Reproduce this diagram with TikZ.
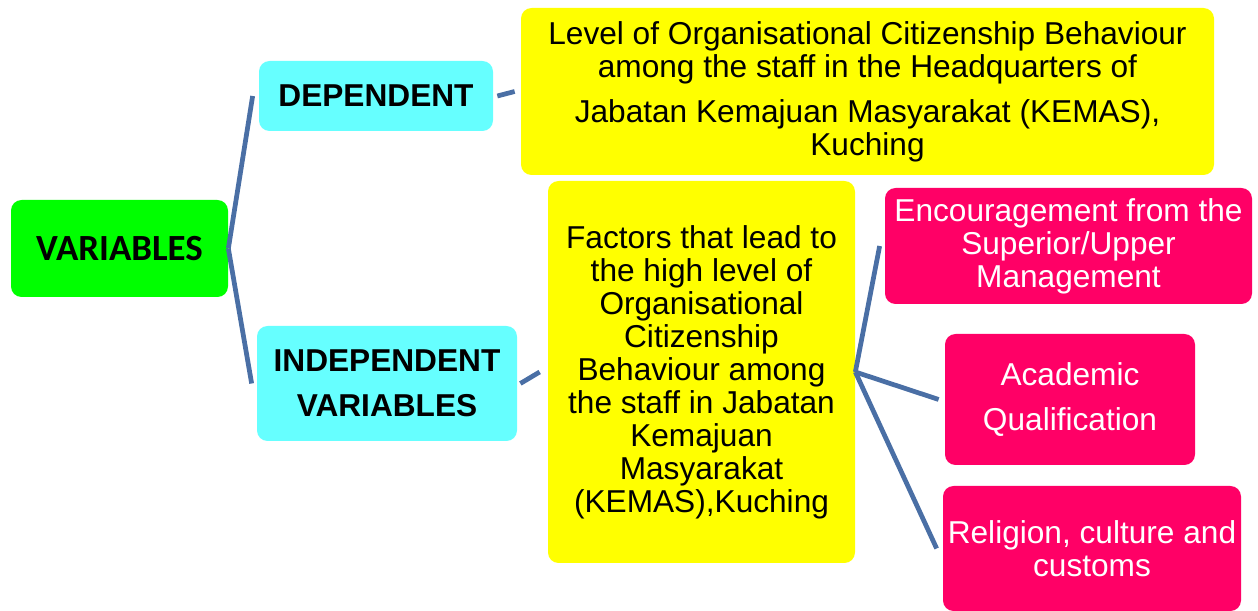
\documentclass[tikz,border=0pt]{standalone}
\usepackage{fontspec}
\setmainfont{Liberation Sans}
\newfontfamily\calibri{Carlito}
\definecolor{vargreen}{HTML}{00FF00}
\definecolor{kindcyan}{HTML}{66FFFF}
\definecolor{topicyellow}{HTML}{FFFF00}
\definecolor{factorpink}{HTML}{FF0066}
\definecolor{linkblue}{HTML}{4A6FA5}
\begin{document}
\begin{tikzpicture}[
  box/.style={rounded corners=6pt, inner sep=0pt, align=center},
  kind/.style={box, fill=kindcyan, font=\bfseries\fontsize{18}{25.6}\selectfont},
  topic/.style={box, fill=topicyellow, font=\fontsize{18}{18.8}\selectfont},
  factor/.style={box, fill=factorpink, text=white, font=\fontsize{18}{18.8}\selectfont},
  link/.style={draw=linkblue, line width=2.7pt},
]
\useasboundingbox (0,0) rectangle (25.16,-12.22);

\node[box, fill=vargreen, minimum width=4.34cm, minimum height=1.94cm, font=\calibri\bfseries\fontsize{21}{24}\selectfont] (vars) at (2.39,-4.97) {VARIABLES};

\node[kind, minimum width=4.68cm, minimum height=1.40cm] (dep) at (7.52,-1.92) {DEPENDENT};
\node[kind, minimum width=5.20cm, minimum height=2.30cm] (indep) at (7.74,-7.67) {INDEPENDENT\\VARIABLES};

\node[topic, minimum width=13.86cm, minimum height=3.34cm] (level) at (17.35,-1.83) {Level of Organisational Citizenship Behaviour\\among the staff in the Headquarters of\\[6.8pt]Jabatan Kemajuan Masyarakat (KEMAS),\\Kuching};
\node[topic, minimum width=6.14cm, minimum height=7.64cm] (factors) at (14.03,-7.44) {Factors that lead to\\the high level of\\Organisational\\Citizenship\\Behaviour among\\the staff in Jabatan\\Kemajuan\\Masyarakat\\(KEMAS),Kuching};

\node[factor, minimum width=7.34cm, minimum height=2.32cm] (enc) at (21.37,-4.92) {Encouragement from the\\Superior/Upper\\Management};
\node[factor, minimum width=5.00cm, minimum height=2.62cm, font=\fontsize{18}{25.6}\selectfont] (acad) at (21.40,-7.99) {Academic\\Qualification};
\node[factor, minimum width=5.96cm, minimum height=2.50cm] (rel) at (21.84,-10.97) {Religion, culture and\\customs};

% branches
\draw[link] (vars.east) -- ([xshift=-0.12cm]dep.west);
\draw[link] (vars.east) -- ([xshift=-0.10cm]indep.west);
\draw[link] ([xshift=0.08cm]dep.east) -- ([xshift=-0.12cm]level.west);
\draw[link] ([xshift=0.06cm]indep.east) -- ([xshift=-0.16cm]factors.west);
\draw[link] (factors.east) -- ([xshift=-0.10cm]enc.west);
\draw[link] (factors.east) -- ([xshift=-0.12cm]acad.west);
\draw[link] (factors.east) -- ([xshift=-0.12cm]rel.west);
\end{tikzpicture}
\end{document}
